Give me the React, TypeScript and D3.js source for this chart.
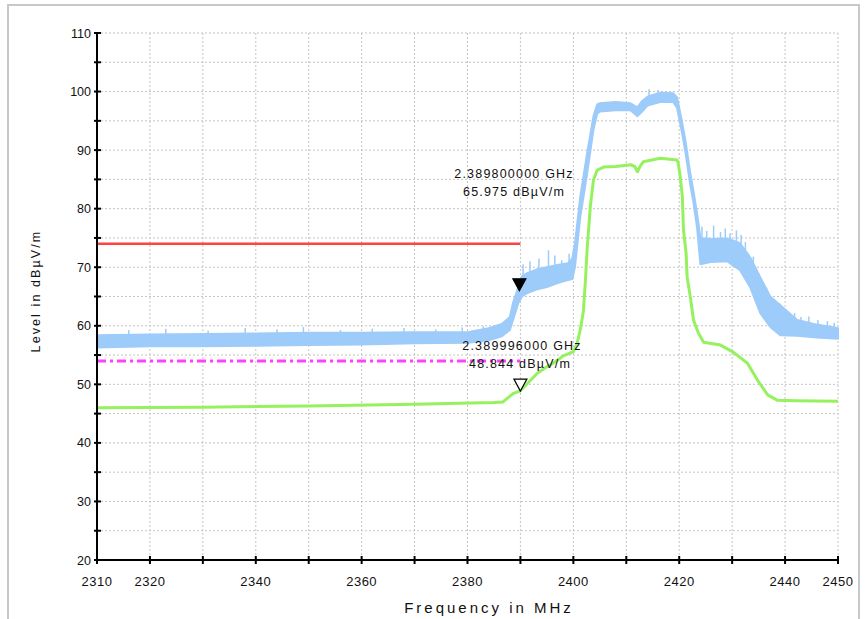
import React from 'react';
import * as d3 from 'd3';

// peak trace (blue) read as a noise band: lower / upper envelope
const peakFreq = [2310, 2320, 2330, 2340, 2350, 2360, 2370, 2380, 2384, 2386.5, 2388, 2388.6, 2389.6, 2390.3, 2391.3, 2393, 2395, 2397, 2399, 2399.8, 2400.3, 2401.3, 2402.6, 2403.8, 2404.5, 2405, 2408, 2410.8, 2412.1, 2413, 2414, 2416.4, 2418.9, 2419.6, 2420.6, 2421.2, 2422.1, 2422.7, 2423.4, 2424, 2425.9, 2429.1, 2431.5, 2433.4, 2435.3, 2437.2, 2439.1, 2442.3, 2446, 2450];
const peakLow = [56.3, 56.5, 56.5, 56.6, 56.7, 56.8, 57.0, 57.1, 57.5, 58.2, 59.3, 61.0, 63.9, 65.0, 65.6, 66.2, 66.6, 67.3, 67.8, 68.0, 70.0, 78.5, 86.0, 93.5, 96.2, 96.6, 96.8, 96.8, 95.8, 96.6, 97.6, 98.2, 98.2, 97.2, 92.6, 89.5, 84.0, 81.0, 76.5, 70.5, 70.9, 71.0, 69.5, 66.6, 62.2, 59.8, 58.4, 58.3, 58.0, 57.8];
const peakHigh = [58.4, 58.5, 58.6, 58.7, 58.8, 58.8, 58.9, 58.9, 59.6, 60.3, 61.5, 63.9, 66.6, 68.5, 69.0, 69.6, 70.0, 70.4, 70.7, 71.5, 74.0, 82.0, 89.5, 95.8, 97.8, 98.0, 98.2, 98.0, 97.3, 98.4, 99.1, 99.8, 99.7, 99.0, 94.5, 91.5, 86.0, 83.0, 79.0, 75.0, 74.8, 74.9, 74.1, 71.7, 68.3, 65.0, 63.5, 61.0, 60.2, 59.6];

// single noise spikes above the peak band
const spikeFreq = [2316, 2323, 2331, 2338, 2344, 2349, 2356, 2362, 2368, 2374, 2379, 2383, 2390.5, 2391.8, 2393.5, 2395.3, 2396.5, 2397.8, 2399.2, 2414.3, 2416, 2424.3, 2425.2, 2426.5, 2427.8, 2428.7, 2429.6, 2430.8, 2431.7, 2432.5, 2434, 2436.5, 2437.8, 2439, 2440.5, 2441.8, 2443, 2444.5, 2446.2, 2448, 2449.3];
const spikeLevel = [59.3, 59.5, 59.2, 59.6, 59.4, 59.8, 59.3, 59.5, 59.6, 59.4, 59.7, 59.9, 70.5, 71.0, 71.5, 72.9, 72.0, 71.2, 72.3, 100.4, 100.3, 76.9, 76.2, 77.1, 76.0, 76.6, 75.8, 76.3, 75.5, 74.3, 71.8, 66.5, 64.4, 63.8, 62.5, 62.2, 61.5, 61.6, 61.0, 60.8, 60.5];

// average trace (green)
const avgFreq = [2310, 2330, 2350, 2370, 2385, 2386.7, 2387.5, 2388.6, 2390, 2391.5, 2393.2, 2395, 2396.2, 2398, 2400, 2400.7, 2401.3, 2401.9, 2402.3, 2402.6, 2403.2, 2403.8, 2404.5, 2405.7, 2408, 2410.8, 2411.6, 2412.1, 2412.6, 2413.2, 2416.4, 2419.6, 2419.8, 2420.2, 2420.6, 2420.8, 2421.3, 2421.5, 2422.1, 2422.7, 2423.6, 2424.6, 2427.8, 2430.2, 2432.9, 2434.8, 2436.7, 2438.5, 2442, 2450];
const avgLevel = [46.0, 46.1, 46.3, 46.6, 46.9, 47.0, 47.6, 48.4, 48.9, 50.3, 51.9, 53.0, 53.6, 54.8, 55.6, 57.0, 59.3, 62.5, 68.0, 73.0, 80.3, 84.9, 86.6, 87.1, 87.2, 87.5, 87.2, 86.3, 87.2, 88.0, 88.6, 88.3, 87.8, 85.4, 82.0, 76.4, 72.4, 68.3, 64.9, 61.0, 58.8, 57.2, 56.7, 55.5, 53.6, 50.7, 48.2, 47.3, 47.2, 47.1];

// limit lines
const peakLimit = 74;
const avgLimit = 54;
const limitEnd = 2390;

// markers
const markerFreq = [2389.8, 2389.996];
const markerLevel = [65.975, 48.844];
const markerFreqText = ['2.389800000 GHz', '2.389996000 GHz'];
const markerLevelText = ['65.975 dBµV/m', '48.844 dBµV/m'];

const xLabelTicks = [2310, 2320, 2340, 2360, 2380, 2400, 2420, 2440, 2450];
const xAllTicks = d3.range(2310, 2451, 10);
const yLabelTicks = d3.range(20, 111, 10);
const yAllTicks = d3.range(20, 111, 5);

const font = '"Liberation Sans", Arial, sans-serif';

export default function App() {
  const left = 97, right = 838, top = 33, bottom = 560;
  const x = d3.scaleLinear().domain([2310, 2450]).range([left, right]);
  const y = d3.scaleLinear().domain([20, 110]).range([bottom, top]);

  const band = d3.area<number>()
    .x((d, i) => x(peakFreq[i]))
    .y0((d, i) => y(peakLow[i]))
    .y1((d, i) => y(peakHigh[i]));
  const avgLine = d3.line<number>()
    .x((d, i) => x(avgFreq[i]))
    .y((d) => y(d));
  const bandTop = d3.scaleLinear().domain(peakFreq).range(peakHigh);

  const blue = '#9dcbfa';
  const green = '#95f25e';

  return (
    <svg width={865} height={619} style={{ position: 'absolute', left: 0, top: 0 }} fontFamily={font}>
      <rect width={865} height={619} fill="#fff" />
      {/* outer frame */}
      <path d="M8,640 V5 H859 V640" fill="none" stroke="#c8c8c8" strokeWidth={2} />

      {/* grid */}
      {yAllTicks.map((t) => (
        <line key={'gy' + t} x1={left} x2={right} y1={y(t)} y2={y(t)} stroke="#c4c4c4" strokeDasharray="2,2" />
      ))}
      {xAllTicks.map((t) => (
        <line key={'gx' + t} x1={x(t)} x2={x(t)} y1={top} y2={bottom} stroke="#c4c4c4" strokeDasharray="2,2" />
      ))}

      {/* limit lines */}
      <line x1={x(2310)} x2={x(limitEnd)} y1={y(peakLimit)} y2={y(peakLimit)} stroke="#ff4343" strokeWidth={2.5} />
      <line x1={x(2310)} x2={x(limitEnd)} y1={y(avgLimit)} y2={y(avgLimit)} stroke="#ff40ff" strokeWidth={3} strokeDasharray="9,4,3,4" />

      {/* peak trace */}
      <path d={band(peakLow) || ''} fill={blue} stroke={blue} strokeWidth={2} strokeLinejoin="round" />
      {spikeFreq.map((f, i) => (
        <line key={'sp' + i} x1={x(f)} x2={x(f)} y1={y(bandTop(f))} y2={y(spikeLevel[i])} stroke={blue} strokeWidth={1.5} />
      ))}

      {/* average trace */}
      <path d={avgLine(avgLevel) || ''} fill="none" stroke={green} strokeWidth={3} strokeLinejoin="round" />

      {/* markers */}
      {markerFreq.map((f, i) => {
        const mx = x(f), my = y(markerLevel[i]);
        return (
          <path key={'m' + i} d={`M${mx},${my} L${mx - 6.5},${my - 12} L${mx + 6.5},${my - 12} Z`}
            fill={i === 0 ? '#000' : '#fff'} stroke="#000" strokeWidth={1.2} />
        );
      })}
      <g fontSize={12.5} letterSpacing={1.2} textAnchor="middle" fill="#111">
        <text x={514} y={177.5}>{markerFreqText[0]}</text>
        <text x={514} y={195.5}>{markerLevelText[0]}</text>
        <text x={522} y={349.5}>{markerFreqText[1]}</text>
        <text x={520} y={367.5}>{markerLevelText[1]}</text>
      </g>

      {/* axes */}
      <line x1={left} x2={left} y1={top} y2={bottom} stroke="#000" strokeWidth={2} />
      <line x1={left} x2={right} y1={bottom} y2={bottom} stroke="#000" strokeWidth={2} />
      {yAllTicks.map((t) => (
        <line key={'ty' + t} x1={left - 3} x2={left + 4} y1={y(t)} y2={y(t)} stroke="#000" strokeWidth={2} />
      ))}
      {xAllTicks.map((t) => (
        <line key={'tx' + t} x1={x(t)} x2={x(t)} y1={bottom - 4} y2={bottom + 4} stroke="#000" strokeWidth={2} />
      ))}
      <g fontSize={12.5} textAnchor="end" fill="#111">
        {yLabelTicks.map((t) => (
          <text key={'ly' + t} x={left - 6} y={y(t) + 4.5}>{t}</text>
        ))}
      </g>
      <g fontSize={13} textAnchor="middle" fill="#111" letterSpacing={0.5}>
        {xLabelTicks.map((t) => (
          <text key={'lx' + t} x={x(t)} y={585.5}>{t}</text>
        ))}
      </g>

      <text x={489} y={613} fontSize={15} letterSpacing={3} textAnchor="middle" fill="#111">Frequency in MHz</text>
      <text transform="translate(40,291) rotate(-90)" fontSize={12.5} letterSpacing={2.1} textAnchor="middle" fill="#111">Level in dBµV/m</text>
    </svg>
  );
}
